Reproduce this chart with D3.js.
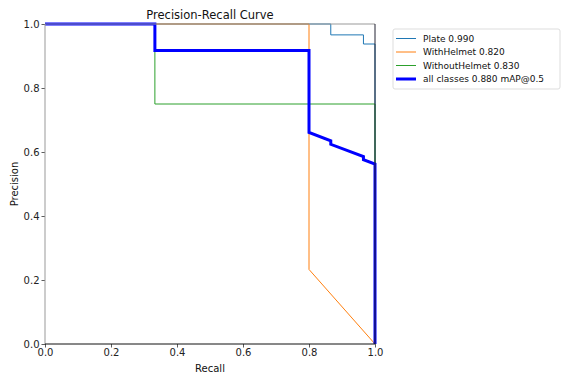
<!DOCTYPE html>
<html>
<head>
<meta charset="utf-8">
<script src="https://cdn.jsdelivr.net/npm/d3@7"></script>
<style>
  body { margin: 0; background: #fff; }
  text { font-family: "DejaVu Sans", sans-serif; fill: #111; }
</style>
</head>
<body>
<script>
// Curve vertices (recall, precision)
var plateRecall    = [0, 0.866, 0.866, 0.965, 0.965, 1.0, 1.0];
var platePrec      = [1, 1, 0.966, 0.966, 0.9375, 0.9375, 0];
var helmetRecall   = [0, 0.8, 0.8, 1.0];
var helmetPrec     = [1, 1, 0.233, 0];
var noHelmetRecall = [0, 0.333, 0.333, 1.0, 1.0];
var noHelmetPrec   = [1, 1, 0.75, 0.75, 0];
var allRecall      = [0, 0.333, 0.333, 0.8, 0.8, 0.866, 0.866, 0.965, 0.965, 1.0, 1.0];
var allPrec        = [1, 1, 0.917, 0.917, 0.661, 0.635, 0.624, 0.586, 0.576, 0.5625, 0];

var seriesNames  = ["Plate 0.990", "WithHelmet 0.820", "WithoutHelmet 0.830", "all classes 0.880 mAP@0.5"];
var seriesColors = ["#1f77b4", "#ff7f0e", "#2ca02c", "#0000ff"];
var seriesWidths = [1, 1, 1, 3];
var tickValues   = [0, 0.2, 0.4, 0.6, 0.8, 1.0];

var svgWidth = 575;
var svgHeight = 383;
var margin = { top: 24, left: 45 };
var chartWidth = 330;
var chartHeight = 320;

var svg = d3.select("body")
  .append("svg")
  .attr("width", svgWidth)
  .attr("height", svgHeight);

var chartGroup = svg.append("g")
  .attr("transform", `translate(${margin.left},${margin.top})`);

var xScale = d3.scaleLinear().domain([0, 1]).range([0, chartWidth]);
var yScale = d3.scaleLinear().domain([0, 1]).range([chartHeight, 0]);

// axes
var bottomAxis = d3.axisBottom(xScale).tickValues(tickValues).tickFormat(d3.format(".1f")).tickSize(3.5).tickPadding(1.5);
var leftAxis = d3.axisLeft(yScale).tickValues(tickValues).tickFormat(d3.format(".1f")).tickSize(3.5).tickPadding(2);

var xAxisG = chartGroup.append("g")
  .attr("transform", `translate(0, ${chartHeight})`)
  .call(bottomAxis);
var yAxisG = chartGroup.append("g").call(leftAxis);
[xAxisG, yAxisG].forEach(function(g) {
  g.select(".domain").remove();
  g.selectAll("line").attr("stroke", "#333").attr("stroke-width", 0.8);
  g.selectAll("text").style("font-size", "10px").style("fill", "#222");
});

// curves
var curves = [
  d3.zip(plateRecall, platePrec),
  d3.zip(helmetRecall, helmetPrec),
  d3.zip(noHelmetRecall, noHelmetPrec),
  d3.zip(allRecall, allPrec)
];

var line = d3.line()
  .x(function(d) { return xScale(d[0]); })
  .y(function(d) { return yScale(d[1]); });

curves.forEach(function(pts, i) {
  chartGroup.append("path")
    .datum(pts)
    .attr("fill", "none")
    .attr("stroke", seriesColors[i])
    .attr("stroke-width", seriesWidths[i])
    .attr("d", line);
});

// frame, drawn over the curves like the spines
chartGroup.append("line").attr("x1", 0).attr("x2", chartWidth).attr("y1", 0).attr("y2", 0).attr("stroke", "#999").attr("stroke-width", 1);
chartGroup.append("line").attr("x1", chartWidth).attr("x2", chartWidth).attr("y1", 0).attr("y2", chartHeight).attr("stroke", "#223").attr("stroke-width", 1);
chartGroup.append("line").attr("x1", 0).attr("x2", 0).attr("y1", 0).attr("y2", chartHeight).attr("stroke", "#999").attr("stroke-width", 1);
chartGroup.append("line").attr("x1", 0).attr("x2", chartWidth).attr("y1", chartHeight).attr("y2", chartHeight).attr("stroke", "#111").attr("stroke-width", 1);

// labels
svg.append("text")
  .attr("x", margin.left + chartWidth / 2)
  .attr("y", 19)
  .attr("text-anchor", "middle")
  .style("font-size", "11.5px")
  .text("Precision-Recall Curve");

svg.append("text")
  .attr("x", margin.left + chartWidth / 2)
  .attr("y", 372)
  .attr("text-anchor", "middle")
  .style("font-size", "10px")
  .text("Recall");

svg.append("text")
  .attr("transform", `translate(18, ${margin.top + chartHeight / 2}) rotate(-90)`)
  .attr("text-anchor", "middle")
  .style("font-size", "10px")
  .text("Precision");

// legend
var legend = svg.append("g").attr("transform", "translate(393, 29)");
legend.append("rect")
  .attr("width", 167).attr("height", 60).attr("rx", 2)
  .attr("fill", "#fff").attr("stroke", "#ddd").attr("stroke-width", 1);

seriesNames.forEach(function(name, i) {
  var y = 9.5 + i * 13.5;
  legend.append("line")
    .attr("x1", 3).attr("x2", 23).attr("y1", y).attr("y2", y)
    .attr("stroke", seriesColors[i]).attr("stroke-width", seriesWidths[i]);
  legend.append("text")
    .attr("x", 30).attr("y", y + 3.3)
    .style("font-size", "9px")
    .text(name);
});
</script>
</body>
</html>
